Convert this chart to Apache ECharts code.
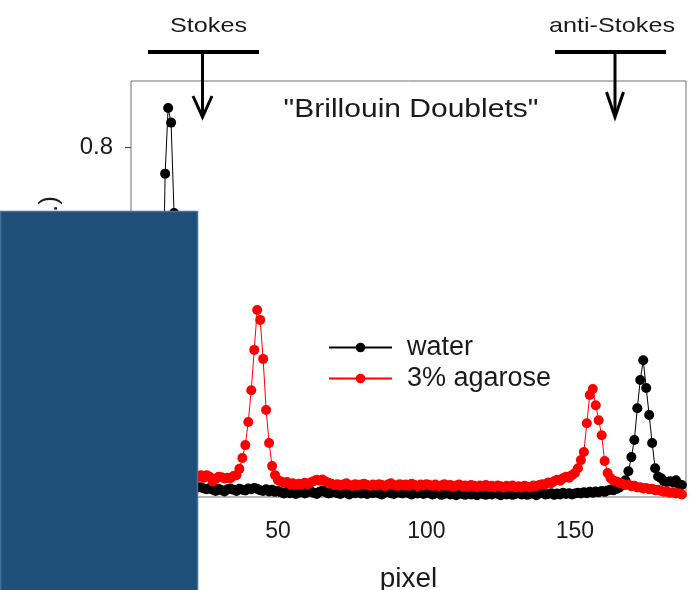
<!DOCTYPE html>
<html>
<head>
<meta charset="utf-8">
<script src="https://cdn.jsdelivr.net/npm/echarts@6/dist/echarts.min.js"></script>
<style>
  html, body { margin: 0; padding: 0; background: #fff; }
  #main { width: 692px; height: 590px; }
</style>
</head>
<body>
<div id="main"></div>
<script>
// intensities per pixel, starting at pixel 1
const water = [
  0.006, 0.004, 0.007, 0.005, 0.008, 0.010, 0.015, 0.030, 0.060, 0.130,
  0.330, 0.738, 0.891, 0.857, 0.646, 0.360, 0.150, 0.060, 0.025, 0.012,
  0.006, 0.004, 0.006, 0.007, 0.004, 0.002, 0.005, 0.001, -0.002, 0.003,
  0.000, -0.003, 0.002, 0.004, 0.001, -0.002, 0.003, 0.001, -0.001, 0.004,
  0.002, 0.005, 0.003, 0.000, -0.002, 0.002, -0.003, 0.001, -0.004, -0.002,
  -0.005, -0.008, -0.004, -0.007, -0.003, -0.009, -0.006, -0.004, -0.008, -0.005,
  -0.002, -0.006, -0.009, -0.004, -0.001, -0.005, -0.008, -0.006, -0.003, -0.007,
  -0.009, -0.005, -0.006, -0.010, -0.004, -0.007, -0.003, -0.008, -0.006, -0.009,
  -0.005, -0.007, -0.004, -0.008, -0.010, -0.006, -0.003, -0.007, -0.009, -0.005,
  -0.006, -0.008, -0.004, -0.007, -0.010, -0.005, -0.008, -0.006, -0.009, -0.004,
  -0.007, -0.010, -0.008, -0.005, -0.011, -0.009, -0.006, -0.010, -0.008, -0.012,
  -0.007, -0.009, -0.011, -0.006, -0.010, -0.008, -0.012, -0.007, -0.009, -0.011,
  -0.008, -0.010, -0.006, -0.009, -0.012, -0.008, -0.010, -0.007, -0.011, -0.009,
  -0.006, -0.010, -0.008, -0.011, -0.007, -0.009, -0.012, -0.008, -0.006, -0.010,
  -0.009, -0.007, -0.011, -0.008, -0.010, -0.006, -0.009, -0.007, -0.010, -0.008,
  -0.006, -0.008, -0.005, -0.007, -0.004, -0.006, -0.003, -0.005, -0.002, -0.004,
  -0.001, 0.001, 0.000, 0.003, 0.006, 0.012, 0.023, 0.044, 0.077, 0.117,
  0.191, 0.257, 0.303, 0.238, 0.175, 0.110, 0.051, 0.032, 0.028, 0.020,
  0.019, 0.021, 0.018, 0.023, 0.014, 0.012
];

const agarose = [
  0.030, 0.028, 0.032, 0.029, 0.031, 0.027, 0.030, 0.033, 0.029, 0.031,
  0.028, 0.030, 0.034, 0.031, 0.029, 0.032, 0.028, 0.030, 0.033, 0.029,
  0.031, 0.028, 0.030, 0.035, 0.029, 0.035, 0.031, 0.020, 0.026, 0.031,
  0.030, 0.027, 0.029, 0.028, 0.033, 0.035, 0.050, 0.075, 0.105, 0.159,
  0.233, 0.327, 0.420, 0.397, 0.306, 0.187, 0.110, 0.056, 0.035, 0.023,
  0.020, 0.017, 0.019, 0.014, 0.016, 0.012, 0.015, 0.013, 0.017, 0.014,
  0.018, 0.021, 0.024, 0.022, 0.025, 0.020, 0.017, 0.015, 0.012, 0.014,
  0.011, 0.013, 0.016, 0.012, 0.010, 0.014, 0.011, 0.013, 0.015, 0.012,
  0.010, 0.013, 0.011, 0.014, 0.012, 0.009, 0.013, 0.016, 0.012, 0.010,
  0.014, 0.011, 0.013, 0.010, 0.015, 0.012, 0.009, 0.013, 0.011, 0.014,
  0.012, 0.010, 0.013, 0.009, 0.011, 0.014, 0.010, 0.012, 0.008, 0.011,
  0.013, 0.009, 0.011, 0.008, 0.012, 0.010, 0.007, 0.011, 0.009, 0.012,
  0.008, 0.010, 0.007, 0.011, 0.009, 0.006, 0.010, 0.008, 0.011, 0.007,
  0.009, 0.006, 0.010, 0.008, 0.007, 0.011, 0.009, 0.012, 0.014, 0.013,
  0.018, 0.016, 0.021, 0.024, 0.022, 0.028, 0.031, 0.029, 0.035, 0.040,
  0.051, 0.070, 0.089, 0.156, 0.222, 0.236, 0.198, 0.163, 0.128, 0.068,
  0.040, 0.028, 0.022, 0.020, 0.017, 0.015, 0.012, 0.013, 0.009, 0.010,
  0.006, 0.007, 0.004, 0.005, 0.002, 0.003, 0.000, 0.001, -0.002, -0.004,
  -0.003, -0.006, -0.005, -0.008, -0.007, -0.010
];

const xTicks = [50, 100, 150];
const yTicks = [0, 0.2, 0.4, 0.6, 0.8];

const font = '"Liberation Sans", Arial, sans-serif';
const txt = '#1a1a1a';

function pairs(arr) {
  return arr.map((v, i) => [i + 1, v]);
}

// text that is a bit wider than usual, like the original slide
function label(text, x, y, size, sx) {
  return { type: 'text', x: x, y: y, z: 50, scaleX: sx, scaleY: 1,
    style: { text: text, font: size + 'px ' + font, fill: txt,
             textAlign: 'center', align: 'center', textVerticalAlign: 'middle', verticalAlign: 'middle' } };
}

function arrow(text, cx, bar, headW, headTop) {
  return [
    label(text, cx + (text === 'Stokes' ? 6 : -3), 26, 21, 1.2),
    { type: 'line', z: 50, shape: { x1: bar[0], y1: 52, x2: bar[1], y2: 52 },
      style: { stroke: '#000', lineWidth: 4 } },
    { type: 'line', z: 50, shape: { x1: cx, y1: 52, x2: cx, y2: 116 },
      style: { stroke: '#000', lineWidth: 3 } },
    { type: 'polyline', z: 50, shape: { points: [[cx - headW, headTop], [cx, 117], [cx + headW, headTop]] },
      style: { stroke: '#000', lineWidth: 3, fill: null } }
  ];
}

const chart = echarts.init(document.getElementById('main'));

chart.setOption({
  animation: false,
  backgroundColor: '#fff',
  legend: {
    orient: 'vertical',
    left: 328,
    top: 334,
    padding: 0,
    itemWidth: 63,
    itemHeight: 12,
    itemGap: 4,
    data: ['water', '3% agarose'],
    textStyle: { fontFamily: font, fontSize: 27, color: txt, padding: [0, 0, 0, 10] }
  },
  grid: {
    left: 131, top: 81, width: 555, height: 416,
    outerBoundsMode: 'none',
    show: true, borderColor: '#707070', borderWidth: 1
  },
  xAxis: {
    type: 'value',
    min: 0.5,
    max: 187.4,
    name: 'pixel',
    nameLocation: 'middle',
    nameGap: 68,
    nameTextStyle: { fontFamily: font, fontSize: 28, color: txt },
    axisLine: { show: false },
    splitLine: { show: false },
    axisTick: { show: true, length: 7, customValues: xTicks, lineStyle: { color: '#444' } },
    axisLabel: { customValues: xTicks, fontFamily: font, fontSize: 23, color: txt, margin: 23 }
  },
  yAxis: {
    type: 'value',
    min: -0.016,
    max: 0.954,
    axisLine: { show: false },
    splitLine: { show: false },
    axisTick: { show: true, length: 6, customValues: yTicks, lineStyle: { color: '#444' } },
    axisLabel: { customValues: yTicks, fontFamily: font, fontSize: 24, color: txt, margin: 18,
                 formatter: v => v.toFixed(1) }
  },
  series: [
    {
      name: 'water', type: 'line', data: pairs(water),
      symbol: 'circle', symbolSize: 10,
      itemStyle: { color: '#000' },
      lineStyle: { color: '#000', width: 1 }
    },
    {
      name: '3% agarose', type: 'line', data: pairs(agarose),
      symbol: 'circle', symbolSize: 10,
      itemStyle: { color: '#ff0000' },
      lineStyle: { color: '#ff0000', width: 1 }
    }
  ],
  graphic: [
    label('"Brillouin Doublets"', 411, 110, 25, 1.2),
    ...arrow('Stokes', 202.5, [148, 259], 9.5, 96),
    ...arrow('anti-Stokes', 615, [555, 666], 8.5, 92),
    { type: 'text', x: 50, y: 196, rotation: Math.PI / 2, z: 50,
      style: { text: 'Intensity (a.u.)', font: '26px ' + font, fill: txt,
               textAlign: 'right', align: 'right', textVerticalAlign: 'middle', verticalAlign: 'middle' } },
    { type: 'rect', z: 100,
      shape: { x: 0.5, y: 211.5, width: 197, height: 380 },
      style: { fill: '#1f4e79', stroke: '#41719c', lineWidth: 1.5 } }
  ]
});
</script>
</body>
</html>
